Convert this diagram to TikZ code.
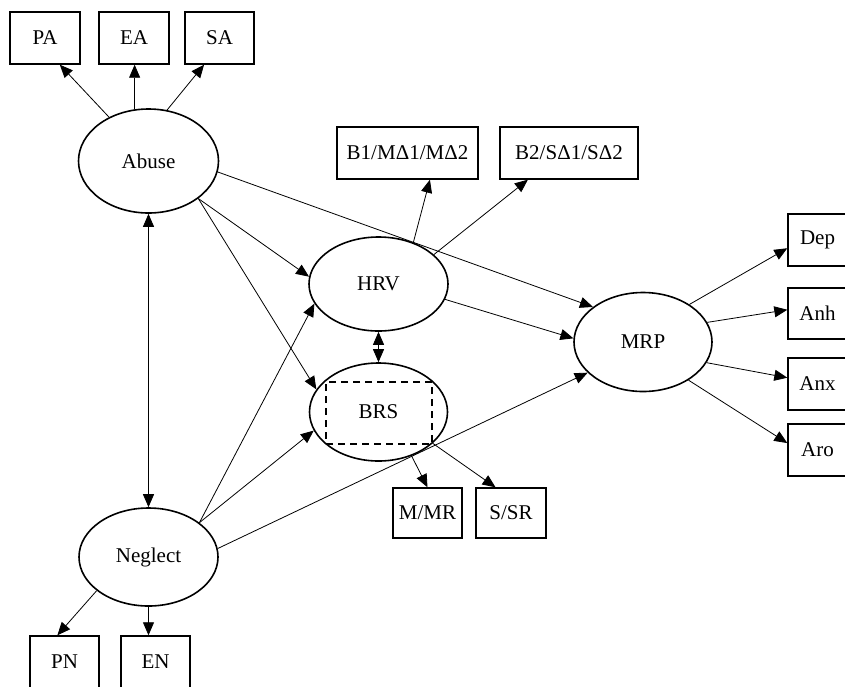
\documentclass[tikz,border=0pt]{standalone}
\usepackage{fontspec}
\setmainfont{Liberation Serif}
\usetikzlibrary{shapes.geometric,arrows.meta}
\begin{document}
\begin{tikzpicture}[x=1pt,y=-1pt,
  lat/.style={draw,line width=1.6pt,ellipse,inner sep=0pt},
  obs/.style={draw,line width=1.4pt,rectangle,inner sep=0pt},
  conn/.style={line width=0.8pt,-{Triangle[length=13pt,width=11pt]}},
  dconn/.style={line width=0.8pt,{Triangle[length=13pt,width=11pt]}-{Triangle[length=13pt,width=11pt]}},
  font=\fontsize{21}{24}\selectfont]
\useasboundingbox (0,0) rectangle (845,686);
% observed boxes
\node[obs,minimum width=70pt,minimum height=52pt] (PA) at (45,38) {PA};
\node[obs,minimum width=70pt,minimum height=52pt] (EA) at (134,38) {EA};
\node[obs,minimum width=69pt,minimum height=52pt] (SA) at (219.5,38) {SA};
\node[obs,minimum width=141pt,minimum height=52pt] (B1) at (407.5,153) {B1/MΔ1/MΔ2};
\node[obs,minimum width=138pt,minimum height=52pt] (B2) at (569,153) {B2/SΔ1/SΔ2};
\node[obs,minimum width=69pt,minimum height=50pt] (MMR) at (427.5,513) {M/MR};
\node[obs,minimum width=70pt,minimum height=50pt] (SSR) at (511,513) {S/SR};
\node[obs,minimum width=70pt,minimum height=52pt] (Dep) at (823,240) {\hspace*{-11pt}Dep};
\node[obs,minimum width=70pt,minimum height=51pt] (Anh) at (823,313.5) {\hspace*{-11pt}Anh};
\node[obs,minimum width=70pt,minimum height=52pt] (Anx) at (823,384) {\hspace*{-11pt}Anx};
\node[obs,minimum width=70pt,minimum height=52pt] (Aro) at (823,450) {\hspace*{-11pt}Aro};
\node[obs,minimum width=69pt,minimum height=52pt] (PN) at (64.5,662) {PN};
\node[obs,minimum width=69pt,minimum height=52pt] (EN) at (155.5,662) {EN};
% latent ellipses
\node[lat,minimum width=140pt,minimum height=104pt] (Abuse) at (148.5,161) {Abuse};
\node[lat,minimum width=139pt,minimum height=94pt] (HRV) at (378.5,284) {HRV};
\node[lat,minimum width=138pt,minimum height=98pt] (BRS) at (378.5,412) {BRS};
\node[draw,line width=1.4pt,dashed,dash pattern=on 7pt off 5pt,minimum width=106pt,minimum height=62pt,inner sep=0pt] (BRSbox) at (379,413) {};
\node[lat,minimum width=138pt,minimum height=99pt] (MRP) at (643,342) {MRP};
\node[lat,minimum width=139pt,minimum height=98pt] (Neglect) at (148.5,557) {Neglect};
% Abuse indicators
\draw[conn] (Abuse.132) -- (PA.-61);
\draw[conn] (Abuse.105) -- (Abuse.105 |- EA.south);
\draw[conn] (Abuse.70) -- (SA.-120);
% Neglect indicators
\draw[conn] (Neglect.213) -- (PN.105);
\draw[conn] (Neglect.south) -- (Neglect.south |- EN.north);
% HRV indicators
\draw[conn] (HRV.50) -- (B1.-50);
\draw[conn] (HRV.28) -- (B2.213);
% BRS indicators
\draw[conn] (BRS.-53) -- (MMR.north);
\draw[conn] (BRS.-30) -- (SSR.121);
% MRP indicators
\draw[conn] (MRP.39) -- (Dep.193);
\draw[conn] (MRP.17) -- (Anh.174);
\draw[conn] (MRP.-18) -- (Anx.170);
\draw[conn] (MRP.-40) -- (Aro.169);
% structural paths
\draw[dconn] (Abuse.south) -- (Neglect.north);
\draw[dconn] (HRV.south) -- (BRS.north);
\draw[conn] (Abuse.-37) -- (HRV.174);
\draw[conn] (Abuse.-37) -- (BRS.160);
\draw[conn] (Abuse.-9) -- (MRP.145);
\draw[conn] (Neglect.34) -- (HRV.197);
\draw[conn] (Neglect.34) -- (BRS.196);
\draw[conn] (Neglect.7) -- (MRP.209);
\draw[conn] (HRV.-13) -- (MRP.177);
\end{tikzpicture}
\end{document}
